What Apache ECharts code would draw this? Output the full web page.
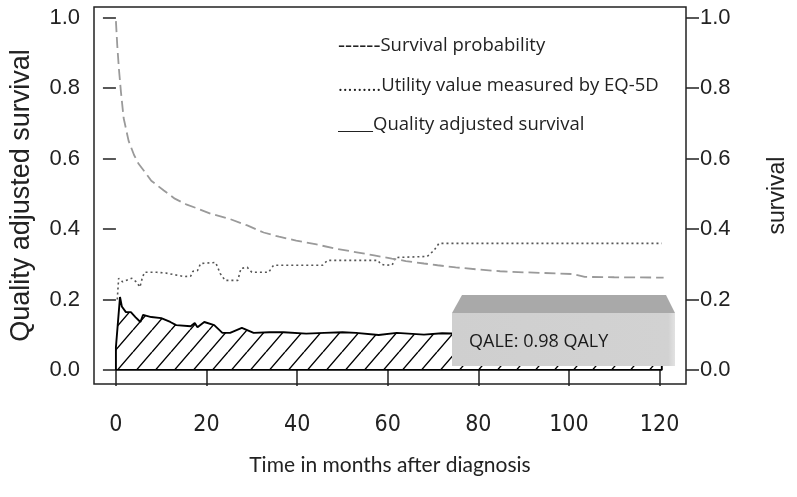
<!DOCTYPE html>
<html>
<head>
<meta charset="utf-8">
<script src="https://cdn.jsdelivr.net/npm/echarts@6/dist/echarts.min.js"></script>
<style>html,body{margin:0;padding:0;background:#fff}#c{width:797px;height:497px}</style>
</head>
<body>
<div id="c"></div>
<script>
// ---- data ----
const xTicks = [0, 20, 40, 60, 80, 100, 120];
const yTicks = [0, 0.2, 0.4, 0.6, 0.8, 1.0];

const survivalT = [0,0.3,0.65,1.1,1.7,2.8,4,5,6.5,7.8,9,10.5,13,15.5,18,21,25,29,32.6,36,39.8,44,48.5,53.5,57,60.9,64,68,71,75,80,84.8,90,97,101,103.5,110,120.9];
const survivalV = [0.99,0.92,0.856,0.79,0.715,0.65,0.61,0.585,0.56,0.537,0.525,0.51,0.486,0.47,0.458,0.443,0.429,0.41,0.39,0.378,0.367,0.357,0.344,0.333,0.325,0.316,0.309,0.302,0.297,0.291,0.285,0.28,0.277,0.274,0.272,0.264,0.263,0.262];

const utilityT = [0.3,0.6,1,1.5,2.5,3.5,4.5,5.3,5.8,6.3,9,11,13,15,16.5,17,18,18.7,22,22.5,23,24.1,26.9,27.6,29,30,33.7,34.8,45.6,46.7,57.8,58.5,59.5,61,61.7,68.7,70.2,71.3,120.5];
const utilityV = [0.2,0.26,0.265,0.25,0.255,0.26,0.25,0.235,0.26,0.277,0.277,0.275,0.27,0.265,0.266,0.28,0.282,0.302,0.305,0.29,0.274,0.254,0.254,0.288,0.291,0.277,0.277,0.297,0.297,0.311,0.311,0.3,0.297,0.298,0.319,0.322,0.339,0.359,0.359];

const qasT = [0,0,0.9,1.3,2.2,3.3,4.3,5.4,6,7.8,10,12,13.3,16.5,17.4,18,19.5,21.7,23.5,25.2,27.8,30.4,33.9,37,42,46,50,53,58,62,68,72,80,90,100,104,120.5,120.5,0];
const qasV = [0,0.065,0.207,0.18,0.164,0.164,0.15,0.136,0.156,0.15,0.147,0.136,0.127,0.124,0.133,0.121,0.136,0.127,0.105,0.105,0.119,0.105,0.107,0.107,0.103,0.105,0.107,0.105,0.099,0.105,0.1,0.104,0.101,0.099,0.097,0.094,0.094,0,0];

const legendPrefixes = ['------', '………', '_____'];
const legendLabels = ['Survival probability', 'Utility value measured by EQ-5D', 'Quality adjusted survival'];
const qaleText = 'QALE: 0.98 QALY';

// ---- hatch pattern ----
function hatch(){
  const w = 19, h = 22;
  const c = document.createElement('canvas');
  c.width = w; c.height = h;
  const g = c.getContext('2d');
  g.fillStyle = '#fff'; g.fillRect(0,0,w,h);
  g.strokeStyle = '#000'; g.lineWidth = 1.4;
  g.beginPath();
  for (let k=-1;k<=1;k++){
    g.moveTo(k*w, h); g.lineTo(k*w + w, 0);
  }
  g.stroke();
  return c;
}

const zip = (a,b) => a.map((t,i)=>[t,b[i]]);
const chart = echarts.init(document.getElementById('c'), null, {renderer:'canvas'});
const axisCol = '#222';
const yAxisCommon = {
  type:'value', min:-0.04, max:1.03,
  splitLine:{show:false},
  axisLine:{show:false},
  axisTick:{show:true, length:13, customValues:yTicks, lineStyle:{color:axisCol, width:1.5}},
  axisLabel:{customValues:yTicks, formatter:v=>v.toFixed(1), fontSize:22, color:axisCol, fontFamily:'Liberation Sans', margin:14},
  nameLocation:'middle'
};
const legendRich = {
  d:{font:'22px "Open Sans"', fill:'#222'},
  u:{font:'16px "Open Sans"', fill:'#222'},
  t:{font:'18.5px "Open Sans"', fill:'#222'}
};
const richKeys = ['d','t','u'];
const legendGraphics = legendLabels.map((lab,i)=>({
  type:'text', x:338, y:[46,86,125][i], z:10,
  style:{text:'{'+richKeys[i]+'|'+legendPrefixes[i]+'}{t|'+lab+'}', rich:legendRich, fill:'#222', verticalAlign:'middle', font:'18.5px "Open Sans"'}
}));
chart.setOption({
  animation:false,
  backgroundColor:'#fff',
  grid:{left:94, right:101, top:7, bottom:113, show:true, borderColor:axisCol, borderWidth:1.5, backgroundColor:'transparent'},
  xAxis:{
    type:'value', min:-4.84, max:125.84,
    splitLine:{show:false}, axisLine:{show:false},
    axisTick:{show:true, length:16, customValues:xTicks, lineStyle:{color:axisCol, width:1.5}},
    axisLabel:{customValues:xTicks, fontSize:23, color:axisCol, fontFamily:'"Liberation Sans Narrow", "DejaVu Sans Condensed", "Liberation Sans"', margin:30},
    name:'Time in months after diagnosis', nameLocation:'middle', nameGap:71,
    nameTextStyle:{fontSize:21, color:axisCol, fontFamily:'Lato'}
  },
  yAxis:[
    Object.assign({}, yAxisCommon, {position:'left', name:'Quality adjusted survival', nameGap:59,
      nameTextStyle:{fontSize:27, color:axisCol, fontFamily:'Liberation Sans'}}),
    Object.assign({}, yAxisCommon, {position:'right', name:'survival', nameGap:80,
      nameTextStyle:{fontSize:23, color:axisCol, fontFamily:'Liberation Sans'}})
  ],
  series:[
    {type:'line', name:'QAS', yAxisIndex:0, data:zip(qasT,qasV), showSymbol:false, z:1,
     lineStyle:{color:'#000', width:1.9},
     areaStyle:{color:{image:hatch(), repeat:'repeat'}, opacity:1}},
    {type:'line', name:'Utility', yAxisIndex:0, data:zip(utilityT,utilityV), showSymbol:false, z:2,
     lineStyle:{color:'#555', width:1.6, type:[2,3]}},
    {type:'line', name:'Survival', yAxisIndex:1, data:zip(survivalT,survivalV), showSymbol:false, z:3,
     lineStyle:{color:'#9a9a9a', width:1.8, type:[11,5]}}
  ],
  graphic:legendGraphics.concat([
    {type:'polygon', z:10, shape:{points:[[452,313],[462,295],[666,295],[675,313]]}, style:{fill:'#a9a9a9'}},
    {type:'rect', z:10, shape:{x:452, y:313, width:223, height:53}, style:{fill:{type:'linear',x:0,y:0,x2:1,y2:0,colorStops:[{offset:0,color:'#cfcfcf'},{offset:0.97,color:'#d2d2d2'},{offset:1,color:'#e2e2e2'}]}}},
    {type:'text', x:469, y:342, z:11, style:{text:qaleText, font:'18px "Open Sans"', fill:'#1a1a1a', verticalAlign:'middle'}}
  ])
});
</script>
</body>
</html>
